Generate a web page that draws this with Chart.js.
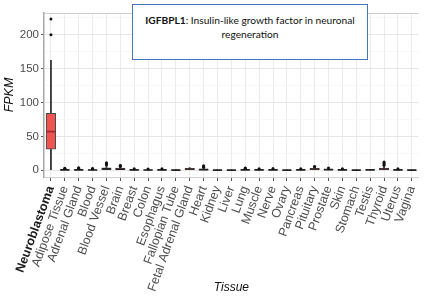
<!DOCTYPE html>
<html>
<head>
<meta charset="utf-8">
<script src="https://cdn.jsdelivr.net/npm/chart.js@4"></script>
<style>
  html, body { margin: 0; padding: 0; background: #fff; }
  #wrap { position: relative; width: 429px; height: 300px; }
  #titlebox {
    position: absolute; left: 132px; top: 4px; width: 234px; height: 46px;
    border: 1.5px solid #4472C4; background: #fff;
    font-family: Lato, "Open Sans", sans-serif; font-size: 10.2px; line-height: 14px;
    color: #111; text-align: center; padding-top: 8px; box-sizing: content-box;
  }
</style>
</head>
<body>
<div id="wrap">
  <canvas id="c" width="429" height="300"></canvas>
  <div id="titlebox"><b>IGFBPL1</b>: Insulin-like growth factor in neuronal<br>regeneration</div>
</div>
<script>
const categories = ["Neuroblastoma","Adipose Tissue","Adrenal Gland","Blood","Blood Vessel","Brain","Breast","Colon","Esophagus","Fallopian Tube","Fetal Adrenal Gland","Heart","Kidney","Liver","Lung","Muscle","Nerve","Ovary","Pancreas","Pituitary","Prostate","Skin","Stomach","Testis","Thyroid","Uterus","Vagina"];
const whiskerLow  = [0, 0,   0,   0,   0,   0,   0,   0,   0,   0,   0,   0,   0,    0,    0,   0,   0,   0,    0,   0,   0,   0,   0,    0,   0,   0,   0];
const q1          = [31, 0.2, 0.3, 0.1, 1,   0.8, 0.2, 0.1, 0.2, 0.1, 1,   0.5, 0.05, 0.05, 0.3, 0.2, 0.2, 0.05, 0.2, 1,   0.4, 0.2, 0.05, 0.3, 0.8, 0.2, 0.1];
const median      = [57, 0.5, 0.6, 0.3, 2,   1.6, 0.4, 0.3, 0.4, 0.2, 1.8, 1,   0.1,  0.1,  0.6, 0.4, 0.5, 0.1,  0.4, 1.8, 0.8, 0.4, 0.1,  0.6, 1.8, 0.5, 0.2];
const q3          = [84, 0.9, 1.0, 0.6, 3.5, 3,   0.8, 0.6, 0.8, 0.4, 2.8, 1.8, 0.2,  0.2,  1.1, 0.8, 0.9, 0.2,  0.8, 2.8, 1.4, 0.8, 0.2,  1,   3,   1,   0.4];
const whiskerHigh = [162, 1.8, 2, 1.2, 7,   5,   1.5, 1.2, 1.5, 0.8, 4,   3.5, 0.4,  0.3,  2,   1.5, 1.8, 0.4,  1.5, 4,   2.5, 1.5, 0.4,  1.5, 6,   1.8, 0.7];
const outliers = [
  [200, 223], [2.5, 3], [2.8, 3.5], [2, 2.5], [8, 9, 10, 11], [5.5, 6.5, 7], [2.2], [1.8], [2.2], [],
  [], [4.5, 5.5, 6.5], [], [], [2.8, 3.2], [2.2], [2.5], [], [2], [5, 5.5],
  [3.2], [2.2], [], [], [7.5, 9, 10.5, 12], [2.3], []
];
const yTicksMajor = [0, 50, 100, 150, 200];

const outlierPoints = [];
outliers.forEach((arr, i) => arr.forEach(v => outlierPoints.push({x: categories[i], y: v})));

const topBorder = {
  id: 'topBorder',
  beforeDatasetsDraw(chart) {
    const {ctx, chartArea} = chart;
    ctx.save();
    ctx.strokeStyle = '#CFCFCF';
    ctx.lineWidth = 1;
    ctx.beginPath();
    ctx.moveTo(chartArea.left, chartArea.top + 0.5);
    ctx.lineTo(chartArea.right, chartArea.top + 0.5);
    ctx.stroke();
    ctx.restore();
  }
};

new Chart(document.getElementById('c'), {
  type: 'bar',
  data: {
    labels: categories,
    datasets: [
      { type: 'line', label: 'outliers', data: outlierPoints, showLine: false,
        pointRadius: 1.5, pointBackgroundColor: '#111', pointBorderWidth: 0, order: 0 },
      { type: 'line', label: 'median', data: median, showLine: false,
        pointStyle: 'line', pointRadius: 4.5, pointBorderWidth: 1.7,
        pointBorderColor: categories.map((c, i) => i === 0 ? '#9E2A2A' : '#222'), order: 1 },
      { label: 'box', data: categories.map((c, i) => [q1[i], q3[i]]), grouped: false,
        barThickness: 9.5, backgroundColor: '#EE5550', borderColor: '#4A4A4A', borderWidth: 1,
        borderSkipped: false, order: 2 },
      { label: 'whisker', data: categories.map((c, i) => [whiskerLow[i], whiskerHigh[i]]), grouped: false,
        barThickness: 1.2, backgroundColor: '#3A3A3A', borderWidth: 0, order: 3 }
    ]
  },
  options: {
    responsive: false, animation: false, devicePixelRatio: 1,
    layout: { padding: { top: 13, right: 0, bottom: 1, left: 0 } },
    plugins: { legend: { display: false }, tooltip: { enabled: false } },
    scales: {
      x: {
        type: 'category', offset: true,
        grid: { offset: false, color: '#EBEBEB', lineWidth: 1, tickColor: '#555', tickLength: 4, drawTicks: true },
        border: { color: '#D0D0D0', width: 1 },
        ticks: {
          autoSkip: false, minRotation: 70, maxRotation: 70, padding: 3,
          color: ctx => ctx.index === 0 ? '#1a1a1a' : '#4D4D4D',
          font: ctx => ({ family: 'Liberation Sans, Arial, sans-serif', size: 12.5, weight: ctx.index === 0 ? 'bold' : 'normal' })
        },
        title: { display: true, text: 'Tissue', color: '#111', font: { family: 'Liberation Sans, Arial, sans-serif', size: 12, style: 'italic' }, padding: 4 },
        afterFit(scale) { scale.height = 122; }
      },
      y: {
        min: -10, max: 232,
        grid: {
          color: ctx => (ctx.tick && yTicksMajor.includes(ctx.tick.value)) ? '#E6E6E6' : '#F3F3F3',
          lineWidth: ctx => (ctx.tick && yTicksMajor.includes(ctx.tick.value)) ? 1 : 0.7,
          tickColor: ctx => (ctx.tick && yTicksMajor.includes(ctx.tick.value)) ? '#555' : 'rgba(0,0,0,0)',
          tickLength: 3
        },
        border: { color: '#A8A8A8', width: 1.5 },
        ticks: { stepSize: 25, includeBounds: false, padding: 2, color: '#4D4D4D',
          font: { family: 'Liberation Sans, Arial, sans-serif', size: 11.5 },
          callback: v => yTicksMajor.includes(v) ? String(v) : '' },
        title: { display: true, text: 'FPKM', color: '#111', font: { family: 'Liberation Sans, Arial, sans-serif', size: 12.5, style: 'italic' }, padding: 2 },
        afterFit(scale) { scale.width = 44; }
      }
    }
  },
  plugins: [topBorder]
});
</script>
</body>
</html>
